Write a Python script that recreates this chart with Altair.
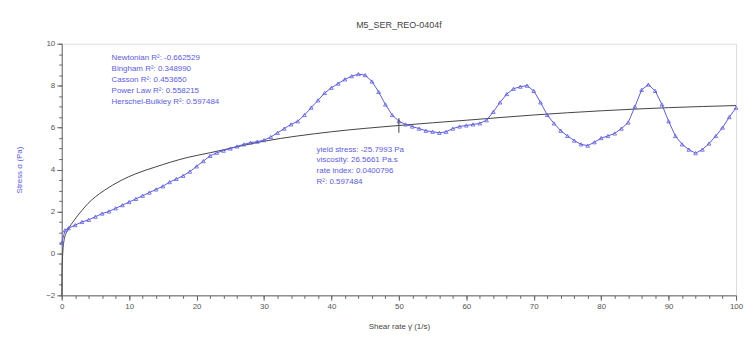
import altair as alt
import pandas as pd

# Measured data (shear rate, stress)
data_x = [0, 0.5, 1, 2, 3, 4, 5, 6, 7, 8, 9, 10, 11, 12, 13, 14, 15, 16, 17, 18, 19,
          20, 21, 22, 23, 24, 25, 26, 27, 28, 29, 30, 31, 32, 33, 34, 35, 36, 37, 38, 39,
          40, 41, 42, 43, 44, 45, 46, 47, 48, 49, 50, 51, 52, 53, 54, 55, 56, 57, 58, 59,
          60, 61, 62, 63, 64, 65, 66, 67, 68, 69, 70, 71, 72, 73, 74, 75, 76, 77, 78, 79,
          80, 81, 82, 83, 84, 85, 86, 87, 88, 89, 90, 91, 92, 93, 94, 95, 96, 97, 98, 99, 100]
data_y = [0.5, 1.1, 1.2, 1.35, 1.5, 1.6, 1.75, 1.9, 2.0, 2.15, 2.3, 2.45, 2.6, 2.75, 2.9, 3.05, 3.2, 3.4, 3.55, 3.7, 3.9,
          4.15, 4.4, 4.65, 4.8, 4.9, 5.0, 5.1, 5.2, 5.28, 5.33, 5.4, 5.55, 5.75, 5.95, 6.15, 6.3, 6.6, 6.95, 7.3, 7.65,
          7.9, 8.1, 8.3, 8.45, 8.55, 8.5, 8.2, 7.7, 7.1, 6.6, 6.3, 6.15, 6.05, 5.95, 5.85, 5.8, 5.75, 5.8, 5.95, 6.05,
          6.1, 6.15, 6.2, 6.35, 6.75, 7.2, 7.6, 7.85, 7.95, 8.0, 7.75, 7.2, 6.6, 6.2, 5.85, 5.6, 5.38, 5.2, 5.14, 5.3,
          5.5, 5.6, 5.72, 5.95, 6.24, 7.0, 7.8, 8.05, 7.75, 7.1, 6.3, 5.6, 5.2, 4.95, 4.78, 4.95, 5.24, 5.6, 6.0, 6.5, 6.95]

# Herschel-Bulkley fit curve
fit_x = [0.01, 0.05, 0.15, 0.4, 0.9, 1.9, 3, 3.9, 5, 6.3, 8.8, 11, 13.7, 18.6, 22, 30, 40, 50, 60, 70, 80, 90, 100]
fit_y = [-2.0, -0.8, 0.0, 0.7, 1.1, 1.6, 2.05, 2.38, 2.7, 3.0, 3.48, 3.8, 4.1, 4.57, 4.8, 5.35, 5.8, 6.1, 6.35, 6.6, 6.8, 6.95, 7.05]

x_major = list(range(0, 101, 10))
x_minor = list(range(0, 101, 2))
y_major = list(range(-2, 11, 2))
y_minor = [v / 2 for v in range(-4, 21)]

models_text = ["Newtonian R²: -0.662529", "Bingham R²: 0.348990", "Casson R²: 0.453650",
               "Power Law R²: 0.558215", "Herschel-Bulkley R²: 0.597484"]
hb_text = ["yield stress: -25.7993 Pa", "viscosity: 26.5661 Pa.s", "rate index: 0.0400796", "R²: 0.597484"]

title_text = "M5_SER_REO-0404f"
x_title = "Shear rate γ̇  (1/s)"
y_title = "Stress σ  (Pa)"

BLUE = "#5b5be8"

df = pd.DataFrame({"x": data_x, "y": data_y})
df_fit = pd.DataFrame({"x": fit_x, "y": fit_y})

xscale = alt.Scale(domain=[0, 100], nice=False, zero=False)
yscale = alt.Scale(domain=[-2, 10], nice=False, zero=False)

xaxis = alt.Axis(title=x_title, values=x_major, tickSize=5,
                 grid=False, labelFontSize=8, labelColor="#555", titleFontSize=8,
                 titleColor="#444", titleFontWeight="normal", titlePadding=12,
                 domainColor="#666", tickColor="#666", labelFlush=False, labelOverlap=False)
yaxis = alt.Axis(title=y_title, values=y_major, tickSize=5,
                 grid=False, labelFontSize=8, labelColor="#555", titleFontSize=8,
                 titleColor=BLUE, titleFontWeight="normal", titlePadding=22,
                 domainColor="#666", tickColor="#666", labelFlush=False, labelOverlap=False)

xaxis_minor = alt.Axis(orient="bottom", values=x_minor, tickSize=3, labels=False, title=None,
                       domain=False, grid=False, tickColor="#666")
yaxis_minor = alt.Axis(orient="left", values=y_minor, tickSize=3, labels=False, title=None,
                       domain=False, grid=False, tickColor="#666")

fit = alt.Chart(df_fit).mark_line(color="#444", strokeWidth=1, interpolate="monotone").encode(
    x=alt.X("x:Q", scale=xscale, axis=xaxis),
    y=alt.Y("y:Q", scale=yscale, axis=yaxis),
)

minor = alt.Chart(df_fit).mark_point(opacity=0).encode(
    x=alt.X("x:Q", scale=xscale, axis=xaxis_minor),
    y=alt.Y("y:Q", scale=yscale, axis=yaxis_minor),
)

X = alt.X("x:Q", axis=None)
Y = alt.Y("y:Q", axis=None)

meas = alt.Chart(df).mark_line(color=BLUE, strokeWidth=1, point=alt.OverlayMarkDef(
    shape="triangle-up", filled=False, size=14, color=BLUE, strokeWidth=0.8)).encode(x=X, y=Y)

marker = alt.Chart(pd.DataFrame({"x": [50], "y": [5.75], "y2": [6.45]})).mark_rule(
    color="#444", strokeWidth=1).encode(x=X, y=Y, y2="y2:Q")

t1 = pd.DataFrame({"t": models_text, "x": [7.4] * 5, "y": [9.3 - 0.52 * i for i in range(5)]})
t2 = pd.DataFrame({"t": hb_text, "x": [37.8] * 4, "y": [4.95 - 0.52 * i for i in range(4)]})

txt1 = alt.Chart(t1).mark_text(align="left", baseline="middle", fontSize=8, color=BLUE,
                               font="Liberation Sans").encode(x=X, y=Y, text="t:N")
txt2 = alt.Chart(t2).mark_text(align="left", baseline="middle", fontSize=8, color=BLUE,
                               font="Liberation Sans").encode(x=X, y=Y, text="t:N")

chart = alt.layer(fit, minor, meas, marker, txt1, txt2).resolve_axis(
    x="independent", y="independent"
).properties(
    width=678, height=253,
    title=alt.TitleParams(title_text, fontSize=9, color="#444", fontWeight="normal",
                          font="Liberation Sans", offset=10),
    autosize=alt.AutoSizeParams(type="none"),
    padding={"left": 54, "top": 35, "right": 12, "bottom": 40},
).configure_view(stroke="#a0a0a0", strokeWidth=2).configure(font="Liberation Sans")

chart.save("out.html", embed_options={"renderer": "svg", "actions": False})
